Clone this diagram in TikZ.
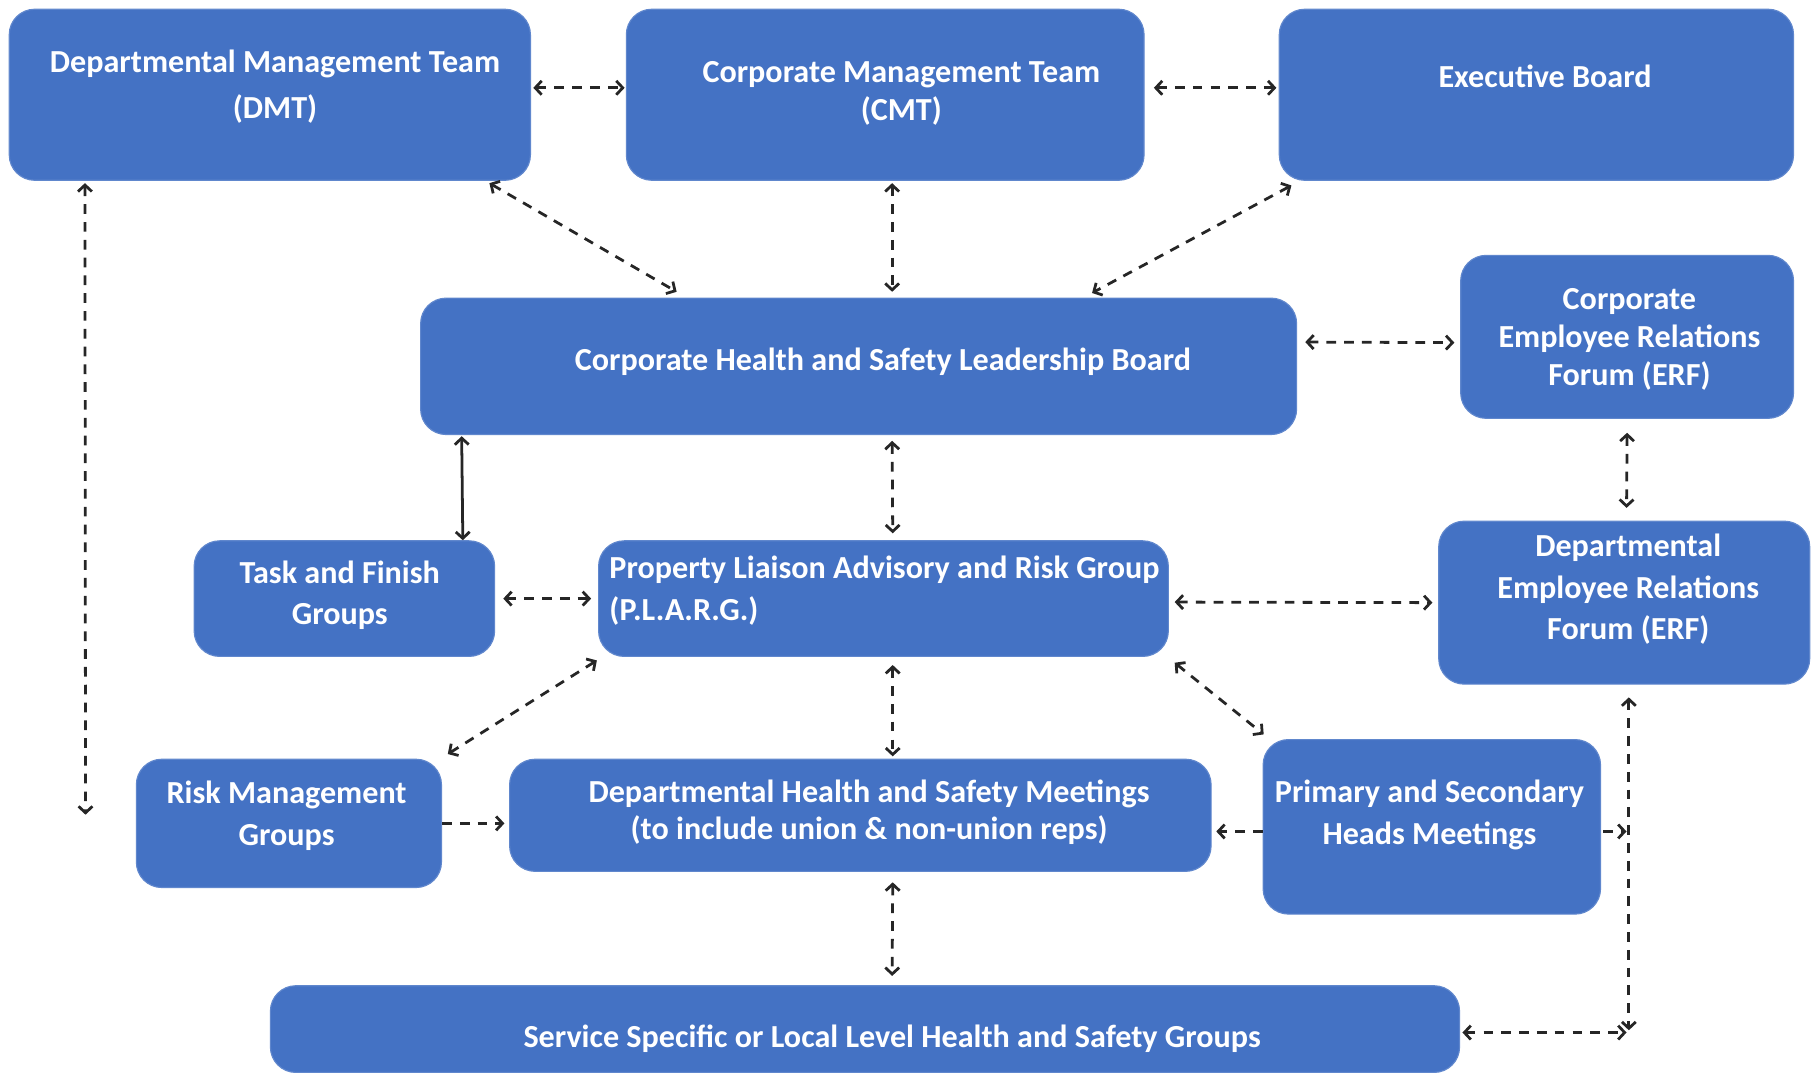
\documentclass[tikz,border=0pt]{standalone}
\usepackage{fontspec}
\setmainfont{Carlito}
\usetikzlibrary{arrows.meta,fit}
\definecolor{boxblue}{HTML}{4472C4}
\definecolor{linkc}{HTML}{262626}
\begin{document}
\begin{tikzpicture}[x=0.5pt,y=-0.5pt,
  box/.style={draw=boxblue!85!white, line width=0.5pt, fill=boxblue, rounded corners=11pt, inner sep=0pt},
  lbl/.style={text=white, font=\bfseries\fontsize{13.9}{18}\selectfont, align=center, inner sep=0pt},
  link/.style={draw=linkc, line width=1.2pt, dash pattern=on 4.2pt off 3.5pt,
    {Straight Barb[length=2.8pt,width=6pt]}-{Straight Barb[length=2.8pt,width=6pt]}},
  linkone/.style={draw=linkc, line width=1.2pt, dash pattern=on 4.2pt off 3.5pt,
    -{Straight Barb[length=2.8pt,width=6pt]}},
  solidlink/.style={draw=linkc, line width=1.2pt,
    {Straight Barb[length=2.8pt,width=6pt]}-{Straight Barb[length=2.8pt,width=6pt]}}
]
\useasboundingbox (0,0) rectangle (1568,930);

% boxes
\node[box, fit={(8,8) (459,156)}] (dmt) {};
\node[box, fit={(542,8) (990,156)}] (cmt) {};
\node[box, fit={(1107,8) (1552,156)}] (exb) {};
\node[box, fit={(364,258) (1122,376)}] (chslb) {};
\node[box, fit={(1264,221) (1552,362)}] (cerf) {};
\node[box, fit={(168,468) (428,568)}] (tfg) {};
\node[box, fit={(518,468) (1011,568)}] (plarg) {};
\node[box, fit={(1245,451) (1566,592)}] (derf) {};
\node[box, fit={(118,657) (382,768)}] (rmg) {};
\node[box, fit={(441,657) (1048,754)}] (dhsm) {};
\node[box, fit={(1093,640) (1385,791)}] (pshm) {};
\node[box, fit={(234,853) (1263,928)}] (ssg) {};

% texts
\node[lbl, font=\bfseries\fontsize{13.9}{20}\selectfont] (dmt-t) at (238,75) {Departmental Management Team\\(DMT)};
\node[lbl, font=\bfseries\fontsize{13.9}{16.5}\selectfont] (cmt-t) at (780,81) {Corporate Management Team\\(CMT)};
\node[lbl] (exb-t) at (1337,66) {Executive Board};
\node[lbl] (chslb-t) at (764,313) {Corporate Health and Safety Leadership Board};
\node[lbl, font=\bfseries\fontsize{13.9}{16.5}\selectfont] (cerf-t) at (1410,294) {Corporate\\Employee Relations\\Forum (ERF)};
\node[lbl] (tfg-t) at (294,515) {Task and Finish\\Groups};
\node[lbl, align=left, anchor=west] (plarg-t) at (527,511) {Property Liaison Advisory and Risk Group\\(P.L.A.R.G.)};
\node[lbl] (derf-t) at (1409,510) {Departmental\\Employee Relations\\Forum (ERF)};
\node[lbl] (rmg-t) at (248,706) {Risk Management\\Groups};
\node[lbl, font=\bfseries\fontsize{13.9}{16}\selectfont] (dhsm-t) at (752,703) {Departmental Health and Safety Meetings\\(to include union \& non-union reps)};
\node[lbl] (pshm-t) at (1237,705) {Primary and Secondary\\Heads Meetings};
\node[lbl] (ssg-t) at (772,899) {Service Specific or Local Level Health and Safety Groups};

% free coordinates
\coordinate (dmtend) at (74,705);
\coordinate (corner) at (1409.5,893.5);
\coordinate (tap) at (1407.5,719.5);

% connectors
\draw[link] ([xshift=1pt,yshift=3pt]dmt.east) -- ([xshift=-0.5pt,yshift=3pt]cmt.west);
\draw[link] ([xshift=4pt,yshift=3pt]cmt.east) -- ([xshift=-1pt,yshift=3pt]exb.west);
\draw[link] ([xshift=33pt,yshift=-1pt]dmt.south west) -- (dmtend);
\draw[link] ([xshift=-18pt,yshift=-1pt]dmt.south east) -- ([xshift=111pt,yshift=2.5pt]chslb.north west);
\draw[link] ([xshift=3pt,yshift=-1pt]cmt.south) -- ([xshift=14.5pt,yshift=2.5pt]chslb.north);
\draw[link] ([xshift=5.5pt,yshift=-2pt]exb.south west) -- ([xshift=101pt,yshift=2pt]chslb.north);
\draw[link] ([xshift=3.5pt,yshift=10.5pt]chslb.east) -- ([xshift=-2.5pt,yshift=-2.5pt]cerf.west);
\draw[solidlink] ([xshift=18pt,yshift=-0.5pt]chslb.south west) -- ([xshift=-14pt]tfg.north east);
\draw[link] ([xshift=14.5pt,yshift=-2.5pt]chslb.south) -- ([xshift=4pt,yshift=3pt]plarg.north);
\draw[link] ([yshift=-6pt]cerf.south) -- ([xshift=1pt,yshift=5.5pt]derf.north);
\draw[link] ([xshift=3.5pt]tfg.east) -- ([xshift=-3pt]plarg.west);
\draw[link] ([xshift=2.5pt,yshift=-1.5pt]plarg.east) -- ([xshift=-2.5pt]derf.west);
\draw[link] ([xshift=-0.5pt,yshift=-1.5pt]plarg.south west) -- ([xshift=2.5pt,yshift=2pt]rmg.north east);
\draw[link] ([xshift=4pt,yshift=-3.5pt]plarg.south) -- ([xshift=14pt,yshift=1pt]dhsm.north);
\draw[link] ([xshift=2.5pt,yshift=-2.5pt]plarg.south east) -- ([xshift=0.5pt,yshift=2pt]pshm.north west);
\draw[linkone] (rmg.east) -- ([xshift=-2pt,yshift=-3.5pt]dhsm.west);
\draw[linkone] ([yshift=-2pt]pshm.west) -- ([xshift=2pt,yshift=-7pt]dhsm.east);
\draw[linkone] ([xshift=1pt,yshift=-2pt]pshm.east) -- (tap);
\draw[link] ([xshift=2pt,yshift=-5.5pt]derf.south) -- ([yshift=1pt]corner);
\draw[link] ([xshift=1pt,yshift=-1.5pt]ssg.east) -- ([xshift=-1pt]corner);
\draw[link] ([xshift=14pt,yshift=-4.5pt]dhsm.south) -- ([xshift=11.75pt,yshift=4pt]ssg.north);
\end{tikzpicture}
\end{document}
